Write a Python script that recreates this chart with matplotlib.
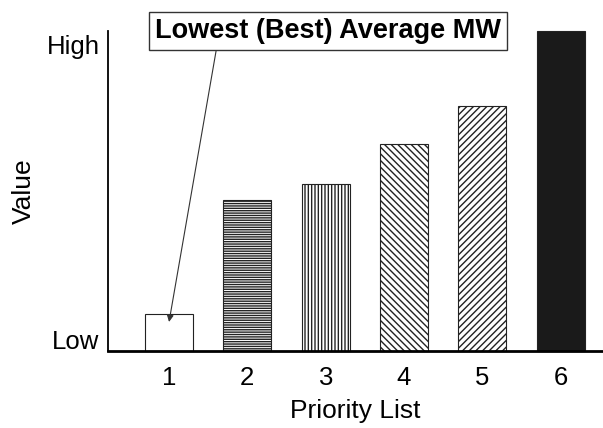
import matplotlib.pyplot as plt
import numpy as np

plt.rcParams['font.family'] = ['Liberation Sans', 'DejaVu Sans']

# data (relative value)
categories = ["1", "2", "3", "4", "5", "6"]
values = [37, 151, 167, 207, 245, 320]
hatches = ["", "-------", "|||||", "\\\\\\\\\\", "/////", ""]
facecolors = ["white", "white", "white", "white", "white", "#1a1a1a"]
ytick_vals = [11, 306]
ytick_labels = ["Low", "High"]

fig = plt.figure(figsize=(6.03, 4.28), dpi=100)
ax = fig.add_axes([0.179, 0.180, 0.821, 0.748])

x = np.arange(1, len(categories) + 1)
plt.rcParams['hatch.linewidth'] = 1.0
for xi, v, h, fc in zip(x, values, hatches, facecolors):
    ax.bar(xi, v, width=0.61, color=fc, edgecolor="#222222", hatch=h,
           linewidth=0.8, clip_on=False)

ax.set_xlim(0.22, 6.54)
ax.set_ylim(0, 320)
ax.set_xticks(x)
ax.set_xticklabels(categories)
ax.set_yticks(ytick_vals)
ax.set_yticklabels(ytick_labels)
ax.tick_params(axis="both", length=0, labelsize=18.5)
ax.tick_params(axis="x", pad=11)
ax.tick_params(axis="y", pad=6)

for s in ["top", "right"]:
    ax.spines[s].set_visible(False)
ax.spines["left"].set_linewidth(1.3)
ax.spines["bottom"].set_linewidth(2)

ax.set_xlabel("Priority List", fontsize=19, labelpad=6)
ax.set_ylabel("Value", fontsize=19, labelpad=8)

# callout pointing to the best (lowest) bar
ax.annotate("Lowest (Best) Average MW", xy=(x[0], values[0] - 8),
            xytext=(328, 397), textcoords="figure pixels",
            ha="center", va="center", fontsize=19.5, fontweight="bold",
            bbox=dict(boxstyle="square,pad=0.22", fc="white", ec="#333333", lw=1),
            arrowprops=dict(arrowstyle="-|>", color="#333333", lw=0.8,
                            shrinkA=0, shrinkB=0, mutation_scale=10,
                            relpos=(0.18, 0.0)))

fig.savefig("out.png", dpi=100)
